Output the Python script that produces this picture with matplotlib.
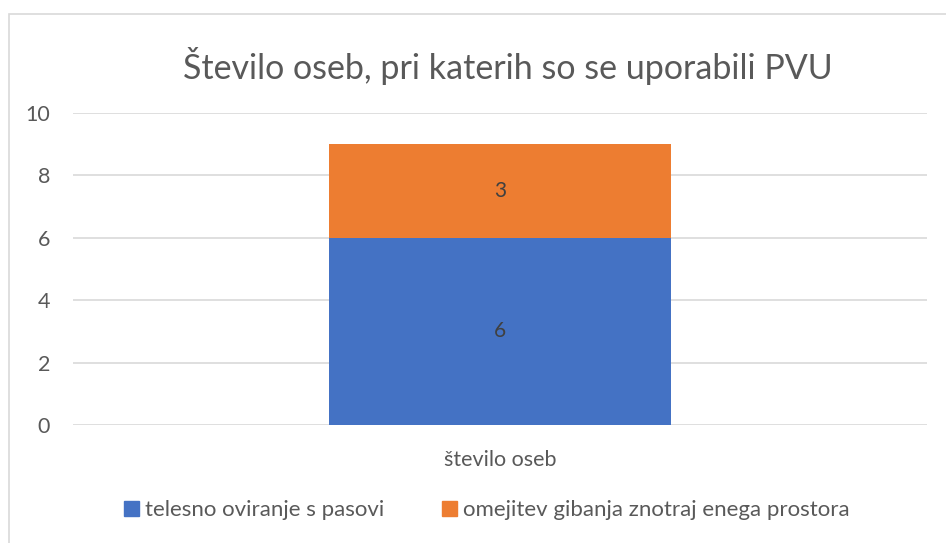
import matplotlib
matplotlib.use("Agg")
import matplotlib.pyplot as plt
from matplotlib.patches import Rectangle, Patch

# data
categories = ["število oseb"]
series_names = ["telesno oviranje s pasovi", "omejitev gibanja znotraj enega prostora"]
series_values = [[6], [3]]
colors = ["#4472C4", "#ED7D31"]
yticks = [0, 2, 4, 6, 8, 10]
title = "Število oseb, pri katerih so se uporabili PVU"

plt.rcParams["font.family"] = ["Lato", "DejaVu Sans"]
TXT = "#595959"

fig = plt.figure(figsize=(9.46, 5.43), dpi=100)
fig.patches.append(Rectangle((9 / 946, -0.1), 1.1, 1 - 14 / 543 + 0.1,
                             transform=fig.transFigure, fill=False,
                             edgecolor="#d9d9d9", lw=1.2))

ax = fig.add_axes([73 / 946, 1 - 425 / 543, 854 / 946, 312 / 543])
x = list(range(len(categories)))
bottom = [0] * len(categories)
for name, vals, c in zip(series_names, series_values, colors):
    bars = ax.bar(x, vals, width=0.4, bottom=bottom, color=c, label=name, zorder=3)
    for b, v in zip(bars, vals):
        ax.text(b.get_x() + b.get_width() / 2, b.get_y() + b.get_height() / 2, str(v),
                ha="center", va="center", fontsize=15, color="#404040", zorder=4)
    bottom = [b0 + v for b0, v in zip(bottom, vals)]

ax.set_xlim(-0.5, 0.5)
ax.set_ylim(0, 10)
ax.set_yticks(yticks)
ax.set_xticks(x)
ax.set_xticklabels(categories)
ax.grid(axis="y", color="#d9d9d9", lw=1.2, zorder=0)
for s in ax.spines.values():
    s.set_visible(False)
ax.tick_params(axis="both", length=0, labelsize=15.5, colors=TXT)
ax.tick_params(axis="y", pad=16.5)
ax.tick_params(axis="x", pad=18)

fig.text(508 / 946, 1 - 66 / 543, title, ha="center", va="center", fontsize=24.5, color=TXT)

handles = [Patch(color=c) for c in colors]
fig.legend(handles, series_names, loc="center", bbox_to_anchor=(487 / 946, 1 - 510 / 543),
           ncol=2, frameon=False, fontsize=16, labelcolor=TXT, handlelength=0.65,
           handleheight=0.65, handletextpad=0.3, columnspacing=2.6)

fig.savefig("out.png", dpi=100)
